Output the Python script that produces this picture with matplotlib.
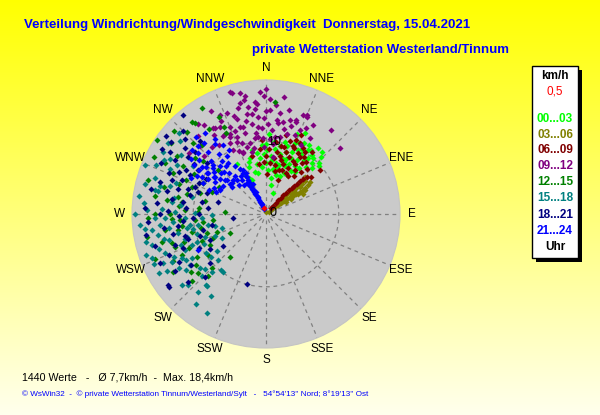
import numpy as np
import matplotlib.pyplot as plt
from matplotlib.patches import Rectangle

# wind points per 3-hour block: (direction in degrees, speed in km/h)
pts_00_03 = [(10, 6), (15, 7), (20, 8), (25, 7.5), (30, 8.5), (35, 9), (40, 10), (22, 10.5), (28, 11),
             (38, 11.5), (5, 8), (0, 7), (-5, 6.5), (-10, 7), (-15, 6), (-20, 6.8), (-28, 6.4), (-25, 5.5),
             (12, 9.5), (18, 9), (27, 9.8), (33, 10.5), (42, 9.5), (45, 8.9), (8, 5), (14, 5.5), (3, 6),
             (24, 6.2), (30, 6.8), (36, 7.8), (21, 11.8), (25, 10.7), (44, 10.8), (38, 10.2), (-8, 8.5),
             (-3, 9.5), (6, 10), (26, 12.3), (32, 11.2), (16, 8), (11, 7.2), (-12, 9), (2, 11), (34, 7),
             (48, 9.8), (-30, 8), (18, 3), (-22, 5), (10, 4), (20, 5.5), (28, 6), (6, 7.5), (13, 8.5),
             (-18, 7.5), (1, 8.8), (8, 9), (30, 9.5), (40, 8.5), (23, 9.2), (-6, 7.8),
             (15, 10.3), (19, 7.5), (24, 8.4), (29, 10.2), (35, 10.8), (42, 11.4), (9, 6.2), (4, 7.2),
             (-2, 8.2), (13, 6.6), (17, 9.8), (22, 7.1), (31, 7.7), (37, 9.6), (46, 10.1), (0, 9.6),
             (-11, 5.8), (-16, 8.0)]
pts_03_06 = [(50, 0.5), (50, 1), (52, 1.5), (53, 2), (54, 2.5), (54, 3), (55, 3.5), (55, 4), (56, 4.5),
             (56, 5), (57, 5.5), (57, 6), (56, 6.5), (55, 7), (54, 7.5), (45, 2), (46, 3), (47, 3.5),
             (47, 4), (48, 4.5), (48, 5), (49, 5.5), (49, 6), (50, 6.5), (50, 7), (48, 6.9), (47, 6.2),
             (46, 7.4), (58, 4), (60, 3.2), (52, 6), (53, 5), (51, 4.5), (58, 6.3), (59, 5.2), (61, 5.8),
             (52, 3), (51, 2.5), (0, 0.3)]
pts_06_09 = [(40, 1), (41, 1.5), (42, 2), (42, 2.5), (43, 3), (43, 3.5), (44, 4), (44, 4.5), (45, 5),
             (45, 5.5), (46, 6), (46, 6.5), (47, 7), (48, 7.5), (50, 8), (51, 9.5),
             (5, 7), (10, 8.7), (16, 7.7), (20, 6.5), (25, 7), (30, 8), (35, 8.5), (28, 9.5), (22, 8.5),
             (12, 6), (0, 8), (-5, 9), (8, 10), (18, 10.5), (26, 10.8), (32, 10), (38, 9), (15, 9.5),
             (20, 5), (30, 6), (2, 5.5), (-8, 7), (24, 11.8), (14, 11.2), (33, 7.2), (36, 6.5), (10, 6.8),
             (-14, 8.2), (-3, 10.2), (40, 7.5), (19, 7.2), (27, 8.2), (21.7, 10),
             (12, 9.6), (18, 8.9), (23, 9.8), (29, 10.4), (34, 9.4), (17, 6.3), (8, 7.8), (3, 9.0),
             (-2, 7.2), (26, 6.2), (31, 9.1), (37, 10.6), (42, 8.4), (22, 10.9), (14, 8.2)]
pts_09_12 = [(-15.8, 17.2), (-13.2, 15.6), (-5.6, 15.4), (0, 14.2), (8, 14.0), (14.3, 13.3), (22.5, 14.7),
             (18, 13.3), (-31.6, 13.8), (-25, 15), (-16.6, 12.4), (-14.5, 11.5), (-12.7, 10.0),
             (-8.3, 10.5), (-4.5, 13.3), (-5, 12), (-6, 10.7), (-2, 9.2), (-22, 10.6), (-27, 9.9),
             (-20, 9.1), (4, 11.5), (7.5, 12.6), (14.4, 11.4), (5.7, 9.7), (7, 7.9), (22, 12.4), (30, 12),
             (-9.5, 14.9), (-4.8, 15.2), (-11, 14.0), (-14.8, 12.3), (-20.8, 11.3), (-27, 10.9),
             (-28, 13.5), (-22.4, 12.9), (-20.5, 8.9), (2.2, 14.3), (6.5, 13), (10.6, 12.8), (12.6, 14.7),
             (18, 13.5), (20.7, 14.5), (23, 14.5), (27, 10.6), (38, 14.6), (48, 13.6), (6.6, 10.7),
             (-35, 14.9), (-30.7, 13.7), (-27, 12.4), (-20.3, 12.2), (-23.4, 9.5), (-52, 13.5),
             (-47, 11.7), (-39, 11.8), (-16.4, 17.4), (0, 17.2), (-1, 16.2), (-10, 16.5), (-18, 14.2),
             (-7, 11.2), (-3, 11.8), (-1, 13.2), (-24, 12.0), (3, 10.3), (10, 10.8), (-12, 13.1),
             (-9, 12.5), (-34, 11.5), (-41, 14.2),
             (-17, 13.6), (-15, 15.0), (-11, 16.0), (-8, 13.8), (-6, 14.5), (-3, 16.8), (2, 15.8),
             (5, 15.0), (-19, 10.3), (-16, 9.6), (-13, 8.8), (-10, 9.2), (-25, 11.7), (-29, 12.3),
             (-33, 13.0), (-37, 15.5), (-44, 13.0), (-26, 14.2), (12, 12.0), (16, 12.5), (20, 11.6),
             (25, 13.1), (28, 13.8), (-2, 10.5), (1, 12.4), (-21, 14.9), (-28, 16.0), (9, 16.2),
             (-12, 17.0)]
pts_12_15 = [(304, 18.1), (314, 14), (317, 12.9), (297, 15.5), (293, 12), (296, 9.7), (290, 10.8),
             (292, 8), (278, 13.7), (278, 11.6), (312.5, 8.9), (334, 13.3), (259, 16.6), (248, 16.4),
             (250, 13.3), (246, 11.6), (244, 12.8), (229, 12.4), (232, 13), (235, 9.8), (246, 8.0),
             (250, 7.2), (220, 7.7), (242, 5.6), (273, 5.6), (273, 11.1), (267, 12.9), (261, 14.0),
             (263, 8.7), (241, 8.8), (285, 14.5), (288, 9.5), (300, 13.2), (307, 16.3), (270, 15.2),
             (256, 10.5), (265, 9.8), (238, 15), (282, 8.5), (275, 9.3), (262, 11.6), (253, 13.5),
             (310, 11.3), (322, 15.8), (300, 7.5), (281, 12.3), (268, 16.2), (225, 10.4), (329, 17.0),
             (321, 16.2), (334, 14.8), (4.6, 15.4), (334, 12.4),
             (260, 12.3), (255, 14.8), (251, 11.9), (243, 14.3), (238, 11.1), (234, 11.8), (247, 9.6),
             (270, 13.2), (275, 12.0), (279, 15.5), (284, 11.2), (289, 12.6), (294, 14.0), (299, 11.3),
             (303, 14.6), (308, 12.4), (316, 15.6), (326, 14.0), (264, 7.3), (258, 9.1), (252, 8.5),
             (228, 13.7), (223, 11.6), (286, 16.8), (312, 17.0), (297, 17.2), (272, 9.4), (266, 11.8)]
pts_15_18 = [(272, 16.3), (268, 15.2), (263, 16.7), (259, 15.1), (262, 13.5), (258, 12.3), (253, 11.6),
             (247, 11.0), (242, 13), (249, 16.7), (249, 14.8), (243, 14.5), (241, 16.8), (240, 15.7),
             (217, 9.9), (219, 9.9), (219, 12.8), (271, 9.7), (261, 9.4), (266, 8.8), (259, 8.1),
             (252, 6.4), (271, 12.5), (267, 11.1), (269, 7.4), (258, 10.2), (249, 9.0), (313, 16.4),
             (306, 16.6), (301, 16.5), (299, 13.9), (282, 15.6), (282, 15.1), (286, 13.7), (283, 10.4),
             (292, 17.9), (270, 18.0), (294, 16.6), (298, 15.9), (244.5, 15.6), (238, 14.1), (231, 11.7),
             (226, 9.1), (241, 6.9), (218, 15.7), (220, 12.8), (255, 13.8), (264, 14.6), (277, 13),
             (246, 12.1), (236, 12.6), (252, 15.5), (275, 16.8), (288, 16), (260, 11), (254, 9.8),
             (232, 9.5), (228, 14.5), (303, 12),
             (265, 12.8), (262, 15.8), (256, 14.4), (250, 12.4), (245, 13.9), (239, 11.8), (235, 13.4),
             (230, 15.1), (226, 12.3), (223, 10.8), (257, 16.9), (254, 11.3), (248, 10.2), (244, 9.4),
             (237, 9.8), (233, 8.4), (262, 10.6), (268, 13.9), (273, 14.3), (276, 11.8), (280, 12.8),
             (285, 15.0), (289, 13.0), (295, 14.6), (300, 15.2), (305, 14.2), (310, 15.5), (255, 16.2),
             (251, 17.4), (246, 16.9), (265, 17.3), (278, 17.6), (240, 12.7), (228, 11.3), (214, 13.5),
             (221, 14.2), (211, 15.8), (247, 7.6), (257, 7.2), (284, 17.1)]
pts_18_21 = [(313, 15.2), (303, 15.7), (296, 16.1), (301, 14.5), (306, 13.2), (311, 12.9), (297, 11.7),
             (303, 11.1), (311, 10.7), (290, 13.7), (286, 12.6), (284, 10.7), (290, 8.6), (287, 15.2),
             (282, 16.2), (276, 15.0), (273, 16.6), (281, 8.9), (284, 6.8), (266, 16.2), (272, 13.4),
             (269, 12.0), (267, 10.0), (256, 8.9), (259, 7.6), (245, 8.5), (233, 7.4), (247, 14.5),
             (236, 12.5), (243, 10.4), (263, 4.5), (234, 16.6), (229, 10.2), (195, 9.9), (233, 16.7),
             (318, 13.5), (300, 9.5), (293, 14.5), (278, 11.5), (262, 12.2), (255, 11.5), (308, 17.5),
             (320, 17.8), (291, 10.5), (270, 14.6), (251, 13.2), (307, 16.4), (302, 16.9),
             (262, 14.2), (258, 13.0), (252, 11.2), (248, 12.3), (241, 13.6), (238, 14.8), (245, 16.0),
             (254, 15.8), (260, 16.8), (265, 11.4), (274, 11.0), (279, 13.0), (283, 14.0), (288, 11.3),
             (292, 12.4), (296, 13.3), (299, 12.6), (305, 12.0), (309, 14.4), (315, 16.1), (270, 9.2),
             (276, 8.0), (288, 9.8), (295, 10.2), (229, 14.2), (238, 9.1), (224, 12.0), (252, 9.6)]
pts_21_24 = [(340, 0.7), (338, 1.0), (336, 1.3), (335, 1.6), (334, 1.9), (334, 2.2), (333, 2.5),
             (333, 2.8), (332, 3.1), (332, 3.4), (331, 3.7), (331, 4.0), (331, 4.3), (333, 4.8),
             (333, 5.3), (332, 5.7), (334, 6.2), (336, 4.5), (329, 5.0),
             (337, 1.5), (334, 2.6), (332, 3.9), (330, 4.6), (335, 3.3), (333, 5.9), (331, 6.4),
             (326, 12.5), (323, 14.0), (328, 11.1), (321, 6.8), (310, 7.3), (306, 8.6), (305, 9.9),
             (306, 10.9), (313, 9.9), (323, 8.7), (325, 5.7), (308, 6.0), (312, 12.5), (299, 7.2),
             (296, 9.7), (311, 13.4), (332, 6.8), (316, 6.5), (311, 7.1), (319, 6.1), (310, 6.5),
             (305, 8.8), (298, 7.1), (242, 10.5), (305, 9.7), (315, 8.2), (318, 7.5), (302, 8.3),
             (309, 9.2), (314, 10.5), (320, 9.5), (300, 10.2), (293, 8.5), (327, 7.8), (317, 11.7),
             (304, 12), (296, 11.4),
             (303, 7.0), (307, 7.9), (312, 8.4), (316, 9.1), (322, 10.4), (324, 11.8), (319, 12.9),
             (309, 11.8), (301, 9.3), (297, 8.0), (294, 7.5), (313, 6.3), (317, 5.4), (322, 5.0),
             (327, 6.2), (330, 7.1), (326, 9.6), (308, 10.4), (303, 11.0), (315, 13.2), (320, 8.6),
             (311, 9.6), (299, 10.9), (306, 12.8), (318, 14.3), (330, 10.2)]
pts_calm = [(345, 0.8)]

groups = [pts_00_03, pts_03_06, pts_06_09, pts_09_12, pts_12_15, pts_15_18, pts_18_21, pts_21_24]
group_labels = ['00...03', '03...06', '06...09', '09...12', '12...15', '15...18', '18...21', '21...24']
group_colors = ['#00FF00', '#808000', '#800000', '#800080', '#008000', '#008080', '#000080', '#0000FF']

directions = ['N', 'NNE', 'NE', 'ENE', 'E', 'ESE', 'SE', 'SSE',
              'S', 'SSW', 'SW', 'WSW', 'W', 'WNW', 'NW', 'NNW']
r_max = 18.4

W, H = 600, 415
fig = plt.figure(figsize=(6, 4.15), dpi=100)

# yellow gradient background
bg = fig.add_axes([0, 0, 1, 1])
bg.axis('off')
grad = np.linspace(0, 1, 256)[:, None, None]
top = np.array([1.0, 1.0, 0.0])
bot = np.array([1.0, 1.0, 0.93])
bg.imshow(top + (bot - top) * grad, aspect='auto', extent=[0, 1, 0, 1])

# polar plot
cx, cy, R = 266, 214, 134
ax = fig.add_axes([(cx - R) / W, 1 - (cy + R) / H, 2 * R / W, 2 * R / H], projection='polar')
ax.set_theta_zero_location('N')
ax.set_theta_direction(-1)
ax.set_ylim(0, r_max)
ax.set_facecolor('#CACACA')
ax.spines['polar'].set_color('#C4C4C4')
ax.grid(False)
ax.set_xticks([])
ax.set_yticks([])

for i, name in enumerate(directions):
    th = np.radians(i * 22.5)
    ax.plot([th, th], [0.8, r_max], ls=(0, (3, 3)), color='#808080', lw=0.9, zorder=1)
    ax.text(th, 20.1, name, ha='center', va='center', fontsize=8.5,
            family='Liberation Sans', clip_on=False)
ring = np.linspace(0, 2 * np.pi, 400)
ax.plot(ring, np.full_like(ring, 10), ls=(0, (3, 3)), color='#808080', lw=0.9, zorder=1)

for pts, col in zip(groups, group_colors):
    d = np.radians([p[0] for p in pts])
    s = [p[1] for p in pts]
    ax.scatter(d, s, s=9.5, marker='D', color=col, linewidths=0, zorder=3)
ax.scatter(np.radians([p[0] for p in pts_calm]), [p[1] for p in pts_calm],
           s=9.5, marker='D', color='#FF0000', linewidths=0, zorder=4)

ax.text(np.radians(6), 10, '10', ha='center', va='center', fontsize=9, family='Liberation Sans', zorder=5)
ax.text(np.radians(80), 1.0, '0', ha='center', va='center', fontsize=9, family='Liberation Sans', zorder=5)

renderer = fig.canvas.get_renderer()


def put(x, y, s, width, **kw):
    t = fig.text(x / W, 1 - y / H, s, va='center', family='Liberation Sans', **kw)
    w = t.get_window_extent(renderer).width
    t.set_fontsize(t.get_fontsize() * width / w)
    return t


put(24, 25, 'Verteilung Windrichtung/Windgeschwindigkeit  Donnerstag, 15.04.2021', 447,
    color='#0000FF', weight='bold', fontsize=10)
put(252, 50, 'private Wetterstation Westerland/Tinnum', 259, color='#0000FF', weight='bold', fontsize=10)
put(22, 377, '1440 Werte   -   Ø 7,7km/h  -  Max. 18,4km/h', 210, color='black', fontsize=8)
put(22, 394, "© WsWin32  -  © private Wetterstation Tinnum/Westerland/Sylt   -   54°54'13'' Nord; 8°19'13'' Ost",
    349, color='#0000FF', fontsize=6)

# legend box with shadow
fig.patches.append(Rectangle((536 / W, 1 - 262 / H), 46 / W, 192 / H, transform=fig.transFigure,
                             facecolor='black', edgecolor='none', zorder=1))
fig.patches.append(Rectangle((532 / W, 1 - 258 / H), 46 / W, 192 / H, transform=fig.transFigure,
                             facecolor='white', edgecolor='black', lw=1, zorder=2))
fig.text(555 / W, 1 - 76 / H, 'km/h', ha='center', va='center', fontsize=8.5, weight='bold',
         family='Liberation Sans')
fig.text(555 / W, 1 - 92 / H, '0,5', ha='center', va='center', fontsize=8.5, color='#FF0000',
         family='Liberation Sans')
legend_y = [119, 135, 150, 166, 182, 198, 215, 231]
for lab, col, yy in zip(group_labels, group_colors, legend_y):
    fig.text(555 / W, 1 - yy / H, lab, ha='center', va='center', fontsize=8.5, weight='bold',
             color=col, family='Liberation Sans')
fig.text(555 / W, 1 - 247 / H, 'Uhr', ha='center', va='center', fontsize=8.5, weight='bold',
         family='Liberation Sans')

fig.savefig('out.png', dpi=100)
